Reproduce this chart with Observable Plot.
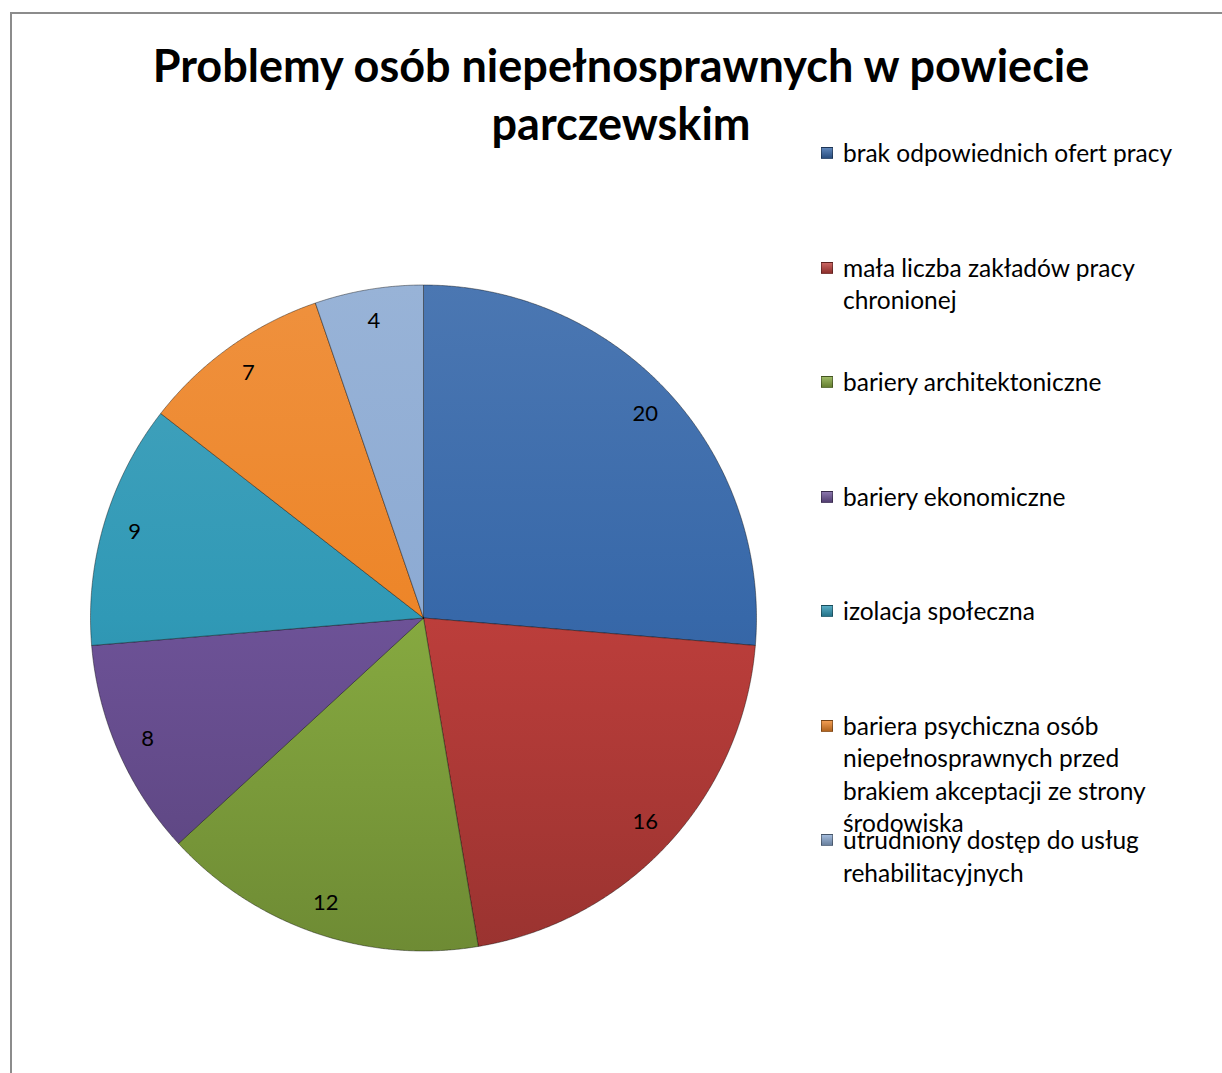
<!DOCTYPE html>
<html><head><meta charset="utf-8">
<script src="https://cdn.jsdelivr.net/npm/d3@7"></script>
<script src="https://cdn.jsdelivr.net/npm/@observablehq/plot@0.6"></script>
<style>
body{margin:0;background:#fff;}
#wrap{position:relative;width:1222px;height:1073px;overflow:hidden;font-family:Lato,"Open Sans",sans-serif;color:#000;}
#frame{position:absolute;left:10px;top:12px;width:1400px;height:1400px;border-left:2px solid #8c8c8c;border-top:2px solid #8c8c8c;}
#chart{position:absolute;left:0;top:0;}
#title{position:absolute;left:10px;width:1222px;top:36px;text-align:center;font-weight:700;font-size:45px;line-height:58px;white-space:nowrap;}
.leg{position:absolute;left:821px;width:372px;font-size:24.5px;line-height:32.5px;}
.leg .mk{position:absolute;left:0;top:10px;width:12px;height:12px;box-sizing:border-box;border:1px solid rgba(0,0,0,0.35);}
.leg .tx{padding-left:22px;}
</style></head>
<body><div id="wrap"><div id="frame"></div><div id="chart"></div>
<div id="title">Problemy osób niepełnosprawnych w powiecie<br>parczewskim</div>
<div id="legend"></div></div>
<script>
const categories = [
  "brak odpowiednich ofert pracy",
  "mała liczba zakładów pracy chronionej",
  "bariery architektoniczne",
  "bariery ekonomiczne",
  "izolacja społeczna",
  "bariera psychiczna osób niepełnosprawnych przed brakiem akceptacji ze strony środowiska",
  "utrudniony dostęp do usług rehabilitacyjnych"
];
const values = [20, 16, 12, 8, 9, 7, 4];
const colors = ["#3768a9", "#bc3e3b", "#86a940", "#6d5297", "#3099b6", "#ed8528", "#8caad3"];

const data = categories.map((c, i) => ({cat: c, value: values[i], i}));
const arcs = d3.pie().sort(null).value(d => d.value)(data);

// polygon points for each slice (clockwise from 12 o'clock)
const slices = arcs.map(a => {
  const pts = [{x: 0, y: 0}];
  const n = Math.max(2, Math.ceil((a.endAngle - a.startAngle) / 0.005));
  for (let k = 0; k <= n; k++) {
    const t = a.startAngle + (a.endAngle - a.startAngle) * k / n;
    pts.push({x: Math.sin(t), y: Math.cos(t)});
  }
  pts.push({x: 0, y: 0});
  return pts;
});
const labels = arcs.map(a => {
  const m = (a.startAngle + a.endAngle) / 2;
  return {x: 0.905 * Math.sin(m), y: 0.905 * Math.cos(m), v: a.data.value};
});

const W = 1222, H = 1073;
const defs = () => {
  const d = d3.create("svg:defs");
  colors.forEach((c, i) => {
    const g = d.append("linearGradient").attr("id", "g" + i)
      .attr("gradientUnits", "userSpaceOnUse")
      .attr("x1", 0).attr("y1", 284).attr("x2", 0).attr("y2", 951);
    g.append("stop").attr("offset", "0%").attr("stop-color", d3.interpolateRgb(c, "#fff")(0.1));
    g.append("stop").attr("offset", "50%").attr("stop-color", c);
    g.append("stop").attr("offset", "100%").attr("stop-color", d3.interpolateRgb(c, "#000")(0.18));
  });
  return d.node();
};

const plot = Plot.plot({
  width: W, height: H,
  marginLeft: 90, marginRight: W - 756,
  marginTop: 284.5, marginBottom: H - 950.5,
  x: {domain: [-1, 1], axis: null},
  y: {domain: [-1, 1], axis: null},
  style: {background: "transparent", overflow: "visible"},
  marks: [
    defs,
    ...slices.map((pts, i) => Plot.line(pts, {x: "x", y: "y", fill: `url(#g${i})`, stroke: "rgba(0,0,0,0.4)", strokeWidth: 1, curve: "linear", strokeLinejoin: "round"})),
    Plot.text(labels, {x: "x", y: "y", text: "v", fontSize: 22, fill: "#000", fontFamily: "Lato, 'Open Sans', sans-serif"})
  ]
});
document.getElementById("chart").appendChild(plot);

const leg = document.getElementById("legend");
categories.forEach((c, i) => {
  const el = document.createElement("div");
  el.className = "leg";
  el.style.top = (153 + i * 114.5 - 16) + "px";
  const top = d3.interpolateRgb(colors[i], "#fff")(0.2), bot = d3.interpolateRgb(colors[i], "#000")(0.25);
  el.innerHTML = `<div class="mk" style="background:linear-gradient(${top},${bot})"></div><div class="tx">${c}</div>`;
  leg.appendChild(el);
});
</script></body></html>
